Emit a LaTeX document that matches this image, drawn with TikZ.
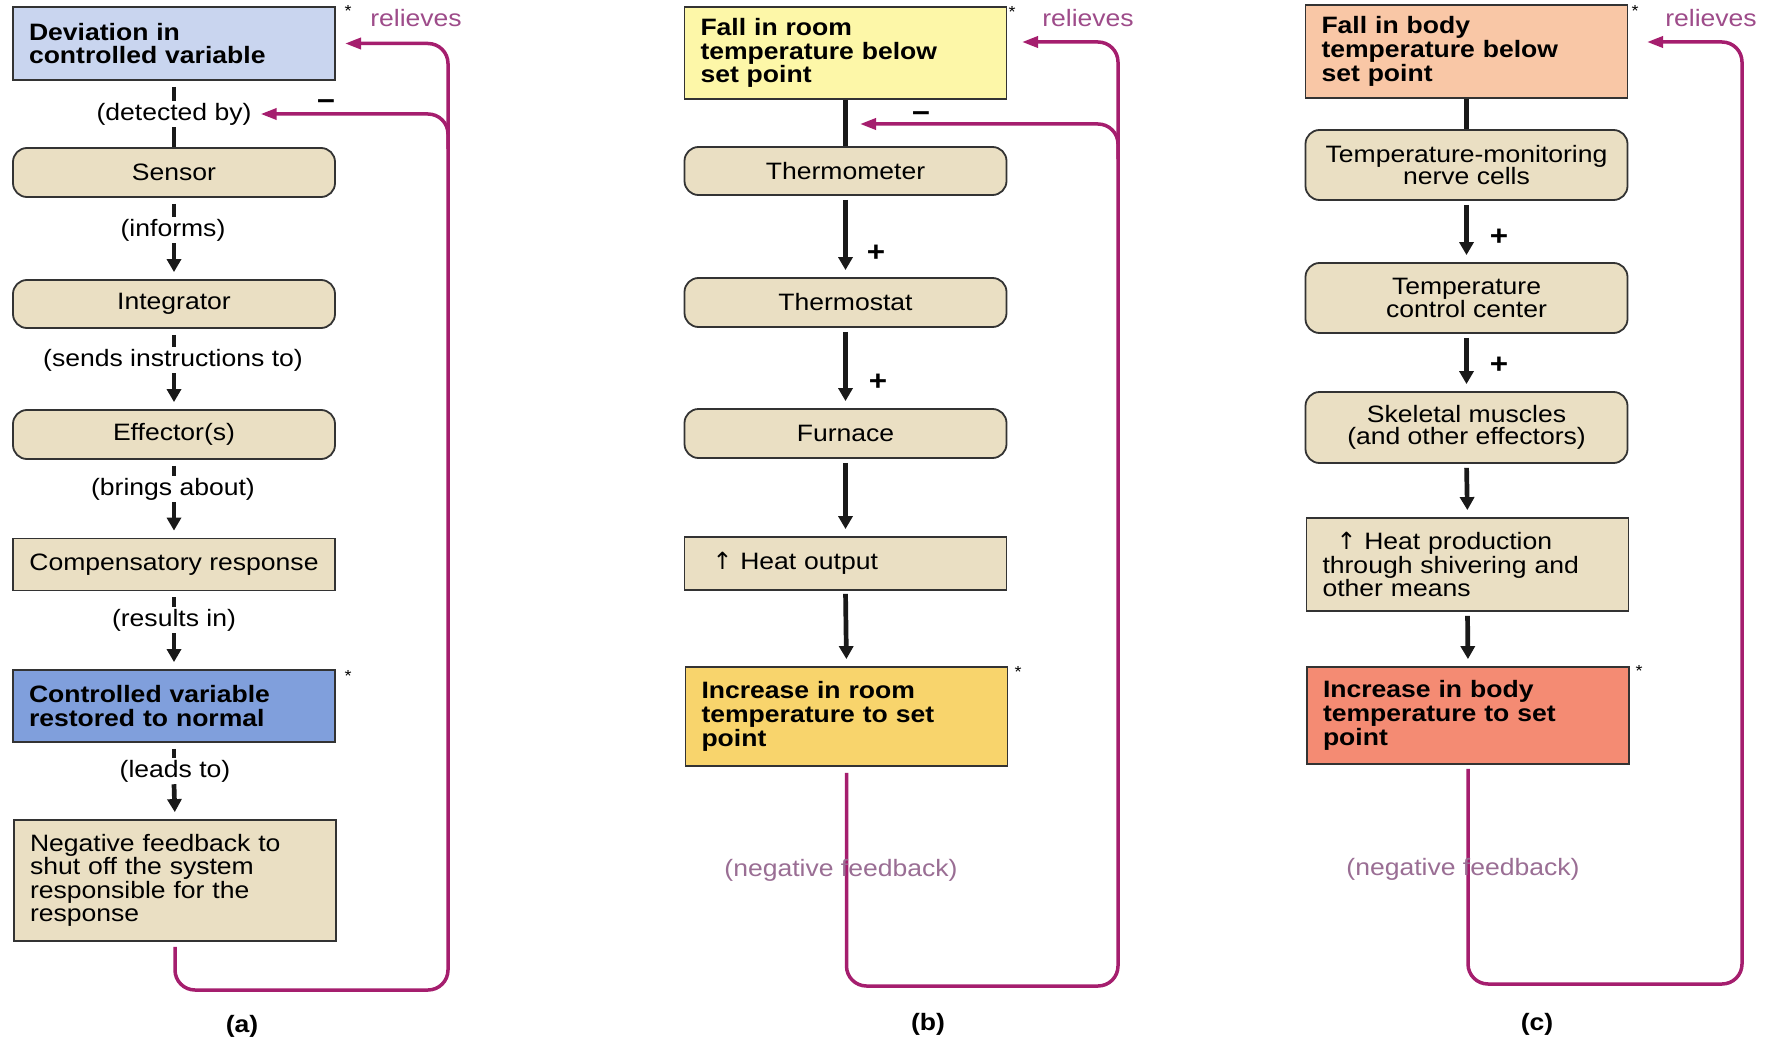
\documentclass[tikz,border=0pt]{standalone}
\usepackage{fontspec}
\setmainfont{Liberation Sans}[FakeStretch=1.12]
\newfontfamily\symfont{DejaVu Sans}
\usetikzlibrary{arrows.meta,calc}
\definecolor{devblue}{HTML}{C9D5EF}
\definecolor{resblue}{HTML}{809FDC}
\definecolor{beige}{HTML}{EADFC3}
\definecolor{ylight}{HTML}{FDF7A8}
\definecolor{ydark}{HTML}{F8D46C}
\definecolor{slight}{HTML}{F9C7A6}
\definecolor{sdark}{HTML}{F48B73}
\definecolor{fbpurple}{HTML}{A51E6E}
\definecolor{reltext}{HTML}{9E4C8A}
\definecolor{nfbtext}{HTML}{9A6E94}
\begin{document}
\begin{tikzpicture}[x=1pt,y=-1pt,
  every node/.style={font=\fontsize{23.7}{22.5}\selectfont},
  box/.style={draw=black!80, line width=1.8pt, minimum width=322pt, inner xsep=16pt, inner ysep=4pt},
  rbox/.style={box, rounded corners=14pt, fill=beige, align=center},
  sbox/.style={box, fill=beige, align=center},
  lbox/.style={box, fill=beige, text width=290pt, align=left, font=\fontsize{23.7}{23.3}\selectfont},
  cbox/.style={box, text width=290pt, align=left, font=\fontsize{23.7}{23.7}\selectfont\bfseries},
  lbl/.style={inner sep=2pt},
  blk/.style={line width=4.7pt, draw=black!90},
  blkseg/.style={blk, shorten <=6pt},
  blkarr/.style={blk, -{Triangle[length=13pt,width=14pt]}, shorten >=7pt},
  fb/.style={draw=fbpurple, line width=3.5pt, rounded corners=20pt},
  fbarr/.style={fb, -{Triangle[length=16pt,width=11pt]}},
  rel/.style={text=reltext},
  nfb/.style={text=nfbtext},
  star/.style={font=\fontsize{16}{16}\selectfont, inner sep=0pt},
  sign/.style={font=\fontsize{28}{28}\selectfont\bfseries, inner sep=0pt},
  panel/.style={font=\fontsize{23.7}{23.7}\selectfont\bfseries}
]
\fill[white] (0,0) rectangle (1772,1038);
\useasboundingbox (0,0) rectangle (1772,1038);

% ---------------- Panel (a) ----------------
\node[cbox, fill=devblue, minimum height=73pt] (adev) at (174,43.5) {Deviation in\\controlled variable};
\node[rbox, minimum height=49pt] (asen) at (174,172.5) {Sensor};
\node[rbox, minimum height=48pt] (aint) at (174,304) {Integrator};
\node[rbox, minimum height=49pt] (aeff) at (174,434.5) {Effector(s)};
\node[sbox, minimum height=52pt] (acomp) at (174,564.5) {Compensatory response};
\node[cbox, fill=resblue, minimum height=72pt] (ares) at (174,706) {Controlled variable\\restored to normal};
\node[lbox, minimum height=121pt] (aneg) at (175,880.5) {Negative feedback to\\shut off the system\\responsible for the\\response};

\node[lbl] (l1) at (174,114) {(detected by)};
\node[lbl] (l2) at (173,230) {(informs)};
\node[lbl] (l3) at (173,360) {(sends instructions to)};
\node[lbl] (l4) at (173,489) {(brings about)};
\node[lbl] (l5) at (174,620) {(results in)};
\node[lbl] (l6) at (175,771) {(leads to)};

\draw[blkseg] (adev.south) -- (adev.south |- l1.north);
\draw[blk] (adev.south |- l1.south) -- (asen.north);
\draw[blkseg] (asen.south) -- (asen.south |- l2.north);
\draw[blkarr] (asen.south |- l2.south) -- (aint.north);
\draw[blkseg] (aint.south) -- (aint.south |- l3.north);
\draw[blkarr] (aint.south |- l3.south) -- (aeff.north);
\draw[blkseg] (aeff.south) -- (aeff.south |- l4.north);
\draw[blkarr] (aeff.south |- l4.south) -- (acomp.north);
\draw[blkseg] (acomp.south) -- (acomp.south |- l5.north);
\draw[blkarr] (acomp.south |- l5.south) -- (ares.north);
\draw[blkseg] (ares.south) -- (ares.south |- l6.north);
\draw[blkarr] (ares.south |- l6.south) -- (aneg.north);

\coordinate (aBR) at (448,990);
\coordinate (aRel) at (345,43.5);
\draw[fbarr, shorten <=5pt] (aneg.south) -- (aneg.south |- aBR) -- (aBR) -- (aBR |- aRel) -- (aRel);
\draw[fbarr] ($(aBR |- l1.east)+(0,35)$) -- (aBR |- l1.east) -- ([xshift=7pt]l1.east);
\node[sign] (aminus) at (326,105) {−};
\node[rel] (arelieves) at (416,18) {relieves};
\node[star] (astar1) at (348,11) {*};
\node[star] (astar2) at (348,676) {*};
\node[panel] (alab) at (242,1026) {(a)};

% ---------------- Panel (b) ----------------
\node[cbox, fill=ylight, minimum height=92pt] (btop) at (845.5,53) {Fall in room\\temperature below\\set point};
\node[rbox, minimum height=48pt] (bthm) at (845.5,171) {Thermometer};
\node[rbox, minimum height=49pt] (bsta) at (845.5,302.5) {Thermostat};
\node[rbox, minimum height=49pt] (bfur) at (845.5,433.5) {Furnace};
\node[lbox, minimum height=53pt] (bheat) at (845.5,563.5) {\hspace*{12pt}{\symfont ↑} Heat output};
\node[cbox, fill=ydark, minimum height=99pt] (binc) at (846.5,716.5) {Increase in room\\temperature to set\\point};

\draw[blk] (btop.south) -- (bthm.north);
\draw[blkarr, shorten <=4pt] (bthm.south) -- (bsta.north);
\draw[blkarr, shorten <=4pt] (bsta.south) -- (bfur.north);
\draw[blkarr, shorten <=4pt] (bfur.south) -- (bheat.north);
\draw[blkarr, shorten <=3pt] (bheat.south) -- (binc.north);
\node[sign] (bplus1) at (876,253) {+};
\node[sign] (bplus2) at (878,382) {+};

\coordinate (bBR) at (1118,986);
\coordinate (bRel) at (1022,42);
\coordinate (bMin) at (860,124);
\draw[fbarr, shorten <=6pt] (binc.south) -- (binc.south |- bBR) -- (bBR) -- (bBR |- bRel) -- (bRel);
\draw[fbarr] ($(bBR |- bMin)+(0,35)$) -- (bBR |- bMin) -- (bMin);
\node[sign] (bminus) at (921,117) {−};
\node[rel] (brelieves) at (1088,18) {relieves};
\node[star] (bstar1) at (1012,12) {*};
\node[star] (bstar2) at (1018,672) {*};
\node[nfb] (bnfb) at (841,870) {(negative feedback)};
\node[panel] (blab) at (928,1024) {(b)};

% ---------------- Panel (c) ----------------
\node[cbox, fill=slight, minimum height=93pt] (ctop) at (1466.5,51.5) {Fall in body\\temperature below\\set point};
\node[rbox, minimum height=70pt] (ctmn) at (1466.5,165) {Temperature-monitoring\\nerve cells};
\node[rbox, minimum height=70pt] (ctcc) at (1466.5,298) {Temperature\\control center};
\node[rbox, minimum height=71pt] (cske) at (1466.5,427.5) {Skeletal muscles\\(and other effectors)};
\node[lbox, minimum height=93pt] (cheat) at (1467.5,564.5) {\hspace*{14pt}{\symfont ↑} Heat production\\through shivering and\\other means};
\node[cbox, fill=sdark, minimum height=97pt] (cinc) at (1468,715.5) {Increase in body\\temperature to set\\point};

\draw[blk] (ctop.south) -- (ctmn.north);
\draw[blkarr, shorten <=4pt] (ctmn.south) -- (ctcc.north);
\draw[blkarr, shorten <=4pt] (ctcc.south) -- (cske.north);
\draw[blkarr, shorten <=4pt] (cske.south) -- (cheat.north);
\draw[blkarr, shorten <=4pt] (cheat.south) -- (cinc.north);
\node[sign] (cplus1) at (1499,237) {+};
\node[sign] (cplus2) at (1499,365) {+};

\coordinate (cBR) at (1742,984);
\coordinate (cRel) at (1647,42);
\draw[fbarr, shorten <=4pt] (cinc.south) -- (cinc.south |- cBR) -- (cBR) -- (cBR |- cRel) -- (cRel);
\node[rel] (crelieves) at (1711,18) {relieves};
\node[star] (cstar1) at (1635,11) {*};
\node[star] (cstar2) at (1639,671) {*};
\node[nfb] (cnfb) at (1463,869) {(negative feedback)};
\node[panel] (clab) at (1537,1024) {(c)};
\end{tikzpicture}
\end{document}
